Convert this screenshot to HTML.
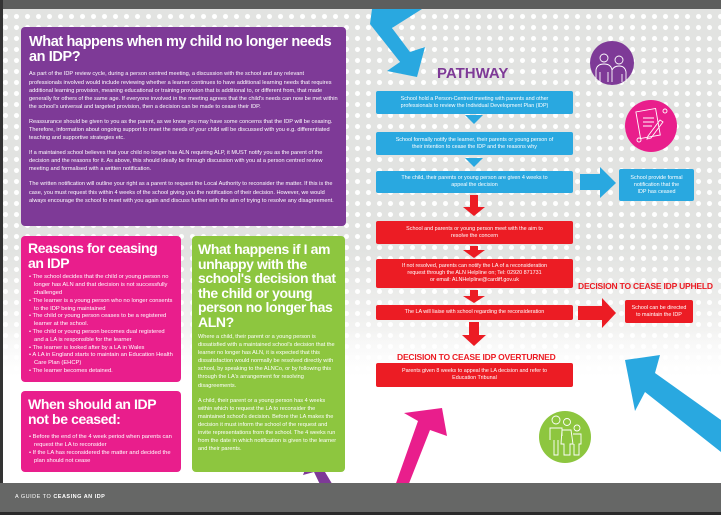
<!DOCTYPE html>
<html><head><meta charset="utf-8"><style>
*{margin:0;padding:0;box-sizing:border-box}
body{width:721px;height:515px;overflow:hidden;position:relative;font-family:"Liberation Sans",sans-serif;background:#fff}
.bg{position:absolute;left:0;top:0;width:721px;height:515px;background:radial-gradient(circle,#fff 2.2px,transparent 2.8px) 0 0/11px 11px,linear-gradient(#e2e3e1 0,#e2e3e1 250px,#f3f3f2 330px,#fff 380px)}
.fade{position:absolute;left:0;top:330px;width:721px;height:160px;background:linear-gradient(rgba(255,255,255,0),#fff 60px)}
.box{position:absolute;border-radius:4px;color:#fff}
.h{font-weight:bold;letter-spacing:-0.4px;line-height:1.05}
.p{font-size:5.6px;line-height:8.1px}
ul{list-style:none}
li{font-size:5.8px;line-height:7.8px;padding-left:6px;text-indent:-5px}
.fb{position:absolute;color:#fff;font-size:5.4px;line-height:7px;text-align:center;display:flex;align-items:center;justify-content:center;border-radius:2px}
.bl{background:#29a8e0}.rd{background:#ec1c24}
.lbl{position:absolute;color:#ec1c24;font-weight:bold;font-size:8.5px;letter-spacing:-0.2px}
</style></head><body>
<div class="bg"></div><div class="fade"></div>
<div style="position:absolute;left:0;top:0;width:721px;height:9px;background:#5d5e5d"></div>
<div style="position:absolute;left:0;top:0;width:3px;height:515px;background:#333"></div>

<svg style="position:absolute;left:0;top:0" width="721" height="515">
<polygon points="372,9 422,9 392,28 410,52 425,47 417,77 387,71 400,62 370,24" fill="#29a8e0"/>
<polygon points="625,360 660,355 655,373 721,420 721,452 645,392 635,411" fill="#29a8e0"/>
<polygon points="395,486 408,486 430,430 447,436 442,408 404,413 418,421" fill="#e91e8c"/>
<polygon points="303,475 310,457 332,463 322,467 340,497 333,512 318,512 326,497 314,472" fill="#7e3a97"/>
<polygon points="465,115 483,115 474,124" fill="#29a8e0"/>
<polygon points="465,158 483,158 474,167" fill="#29a8e0"/>
<polygon points="580,174 600,174 600,167 616,183 600,198 600,190 580,190" fill="#29a8e0"/>
<polygon points="470,195 478,195 478,207 485,207 474,216 463,207 470,207" fill="#ec1c24"/>
<polygon points="470,246 478,246 478,250 485,250 474,258 463,250 470,250" fill="#ec1c24"/>
<polygon points="470,290 478,290 478,296 485,296 474,303 463,296 470,296" fill="#ec1c24"/>
<polygon points="578,306 602,306 602,298 616,313 602,328 602,320 578,320" fill="#ec1c24"/>
<polygon points="469,322 479,322 479,335 486,335 474,346 462,335 469,335" fill="#ec1c24"/>
<circle cx="612" cy="63" r="22" fill="#7e3a97"/>
<g stroke="#fff" stroke-width="0.9" fill="none"><circle cx="604" cy="58" r="4"/><path d="M596,82 V70 Q597,64 604,64 Q611,64 612,70 V82 M600,72 V82 M608,72 V82"/><circle cx="619" cy="60" r="4"/><path d="M612,70 Q614,66 619,66 Q625,66 626,72 V82 M622,74 V82"/></g>
<circle cx="651" cy="126" r="26" fill="#e91e8c"/>
<g stroke="#fff" stroke-width="0.9" fill="none"><rect x="638" y="110" width="20" height="27" transform="rotate(-10 648 123)"/><path d="M643,118 h11 M643,122 h11 M643,126 h9 M648,136 l12,-16 3,2 -12,16 -4,1 z"/><circle cx="665" cy="111" r="2"/><circle cx="639" cy="140" r="2"/></g>
<circle cx="565" cy="437" r="26" fill="#8dc63f"/>
<g stroke="#fff" stroke-width="0.9" fill="none"><circle cx="556" cy="420" r="4"/><circle cx="567" cy="422" r="3.5"/><circle cx="577" cy="428" r="3"/><path d="M550,440 V428 h12 v8 M554,440 V455 h4 V440 M562,430 h9 l2,14 h-3 v11 h-6 v-11 h-3 z M573,434 h8 v10 h-2 v11 h-5 v-11"/></g>
</svg>

<div class="box" style="left:21px;top:27px;width:325px;height:199px;background:#7e3a97;padding:8px 8px 0 8px">
<div class="h" style="font-size:14.5px;white-space:nowrap">What happens when my child no longer needs<br>an IDP?</div>
<div class="p" style="margin-top:5px">As part of the IDP review cycle, during a person centred meeting, a discussion with the school and any relevant professionals involved would include reviewing whether a learner continues to have additional learning needs that requires additional learning provision, meaning educational or training provision that is additional to, or different from, that made generally for others of the same age. If everyone involved in the meeting agrees that the child's needs can now be met within the school's universal and targeted provision, then a decision can be made to cease their IDP.</div>
<div class="p" style="margin-top:7px">Reassurance should be given to you as the parent, as we know you may have some concerns that the IDP will be ceasing. Therefore, information about ongoing support to meet the needs of your child will be discussed with you e.g. differentiated teaching and supportive strategies etc.</div>
<div class="p" style="margin-top:7px">If a maintained school believes that your child no longer has ALN requiring ALP, it MUST notify you as the parent of the decision and the reasons for it. As above, this should ideally be through discussion with you at a person centred review meeting and formalised with a written notification.</div>
<div class="p" style="margin-top:7px">The written notification will outline your right as a parent to request the Local Authority to reconsider the matter. If this is the case, you must request this within 4 weeks of the school giving you the notification of their decision. However, we would always encourage the school to meet with you again and discuss further with the aim of trying to resolve any disagreement.</div>
</div>

<div class="box" style="left:21px;top:236px;width:160px;height:146px;background:#e91e8c;padding:5px 7px">
<div class="h" style="font-size:14px">Reasons for ceasing<br>an IDP</div>
<ul style="margin-top:4px">
<li>• The school decides that the child or young person no longer has ALN and that decision is not successfully challenged</li>
<li>• The learner is a young person who no longer consents to the IDP being maintained</li>
<li>• The child or young person ceases to be a registered learner at the school.</li>
<li>• The child or young person becomes dual registered and a LA is responsible for the learner</li>
<li>• The learner is looked after by a LA in Wales</li>
<li>• A LA in England starts to maintain an Education Health Care Plan (EHCP)</li>
<li>• The learner becomes detained.</li></ul>
</div>

<div class="box" style="left:21px;top:391px;width:160px;height:81px;background:#e91e8c;padding:6px 7px">
<div class="h" style="font-size:14px">When should an IDP<br>not be ceased:</div>
<ul style="margin-top:8px">
<li>• Before the end of the 4 week period when parents can request the LA to reconsider</li>
<li>• If the LA has reconsidered the matter and decided the plan should not cease</li></ul>
</div>

<div class="box" style="left:192px;top:236px;width:153px;height:236px;background:#8dc63f;padding:6px 6px">
<div class="h" style="font-size:14px;line-height:14.5px">What happens if I am<br>unhappy with the<br>school's decision that<br>the child or young<br>person no longer has<br>ALN?</div>
<div class="p" style="margin-top:4px">Where a child, their parent or a young person is dissatisfied with a maintained school's decision that the learner no longer has ALN, it is expected that this dissatisfaction would normally be resolved directly with school, by speaking to the ALNCo, or by following this through the LA's arrangement for resolving disagreements.</div>
<div class="p" style="margin-top:7px">A child, their parent or a young person has 4 weeks within which to request the LA to reconsider the maintained school's decision. Before the LA makes the decision it must inform the school of the request and invite representations from the school. The 4 weeks run from the date in which notification is given to the learner and their parents.</div>
</div>

<div style="position:absolute;left:437px;top:65px;color:#7e3a97;font-weight:bold;font-size:15px">PATHWAY</div>

<div class="fb bl" style="left:376px;top:91px;width:197px;height:23px">School hold a Person-Centred meeting with parents and other<br>professionals to review the Individual Development Plan (IDP)</div>
<div class="fb bl" style="left:376px;top:132px;width:197px;height:23px">School formally notify the learner, their parents or young person of<br>their intention to cease the IDP and the reasons why</div>
<div class="fb bl" style="left:376px;top:171px;width:197px;height:22px">The child, their parents or young person are given 4 weeks to<br>appeal the decision</div>
<div class="fb bl" style="left:619px;top:169px;width:75px;height:32px">School provide formal<br>notification that the<br>IDP has ceased</div>

<div class="fb rd" style="left:376px;top:221px;width:197px;height:23px">School and parents or young person meet with the aim to<br>resolve the concern</div>
<div class="fb rd" style="left:376px;top:259px;width:197px;height:29px">If not resolved, parents can notify the LA of a reconsideration<br>request through the ALN Helpline on; Tel: 02920 871731<br>or email: ALNHelpline@cardiff.gov.uk</div>
<div class="fb rd" style="left:376px;top:305px;width:197px;height:15px">The LA will liaise with school regarding the reconsideration</div>
<div class="lbl" style="left:578px;top:281px">DECISION TO CEASE IDP UPHELD</div>
<div class="fb rd" style="left:625px;top:300px;width:68px;height:23px">School can be directed<br>to maintain the IDP</div>
<div class="lbl" style="left:397px;top:352px">DECISION TO CEASE IDP OVERTURNED</div>
<div class="fb rd" style="left:376px;top:363px;width:197px;height:24px">Parents given 8 weeks to appeal the LA decision and refer to<br>Education Tribunal</div>

<div style="position:absolute;left:0;top:483px;width:721px;height:29px;background:#666766"></div>
<div style="position:absolute;left:0;top:512px;width:721px;height:3px;background:#2a2a2a"></div>
<div style="position:absolute;left:15px;top:494px;color:#fff;font-size:5.5px;letter-spacing:0.5px">A GUIDE TO <b>CEASING AN IDP</b></div>
</body></html>
